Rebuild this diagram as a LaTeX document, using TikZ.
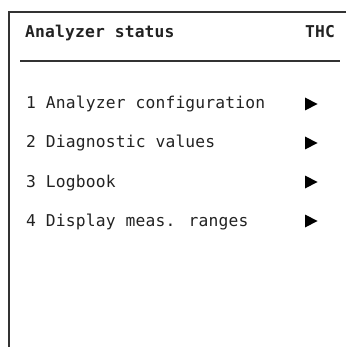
\documentclass[tikz,border=0pt]{standalone}
\usepackage{fontspec}
\setmonofont{DejaVu Sans Mono}
\newfontfamily\lcdfont[LetterSpace=1]{DejaVu Sans Mono}
\newfontfamily\lcdbold[LetterSpace=1]{DejaVu Sans Mono Bold}
\definecolor{framegray}{HTML}{333333}
\definecolor{textgray}{HTML}{222222}
\tikzset{
  frameline/.style={draw=framegray, line width=2pt},
  rule/.style={draw=framegray, line width=1.8pt},
  heading/.style={anchor=base west, inner sep=0pt, text=textgray, font=\lcdbold\fontsize{16.3}{16.3}\selectfont},
  entry/.style={anchor=base west, inner sep=0pt, text=textgray, font=\lcdfont\fontsize{16.3}{16.3}\selectfont},
  pointer/.style={fill=black}
}
\begin{document}
\begin{tikzpicture}[x=1pt, y=-1pt]
  \useasboundingbox (0,0) rectangle (346,347);
  % display frame: top edge and left edge
  \coordinate (ctl) at (9,12);
  \coordinate (ctr) at (346,12);
  \coordinate (cbl) at (9,347);
  \draw[frameline] (ctr) -- (ctl) -- (cbl);
  % header
  \node[heading] (title) at (25,37.5) {Analyzer status};
  \node[heading] (thc) at (305,37.5) {THC};
  \coordinate (rl) at (20,61);
  \coordinate (rr) at (340,61);
  \draw[rule] (rl) -- (rr);
  % menu entries
  \node[entry] (m1) at (26,109) {1 Analyzer configuration};
  \node[entry] (m2) at (26,148) {2 Diagnostic values};
  \node[entry] (m3) at (26,187) {3 Logbook};
  \node[entry] (m4) at (26,226) {4 Display meas. ranges};
  % submenu pointers
  \foreach \k/\y in {1/104, 2/143, 3/182, 4/221} {
    \coordinate (p\k) at (305,\y);
    \fill[pointer] ([yshift=-6.5pt]p\k) -- ([xshift=12.5pt]p\k) -- ([yshift=6.5pt]p\k) -- cycle;
  }
\end{tikzpicture}
\end{document}
